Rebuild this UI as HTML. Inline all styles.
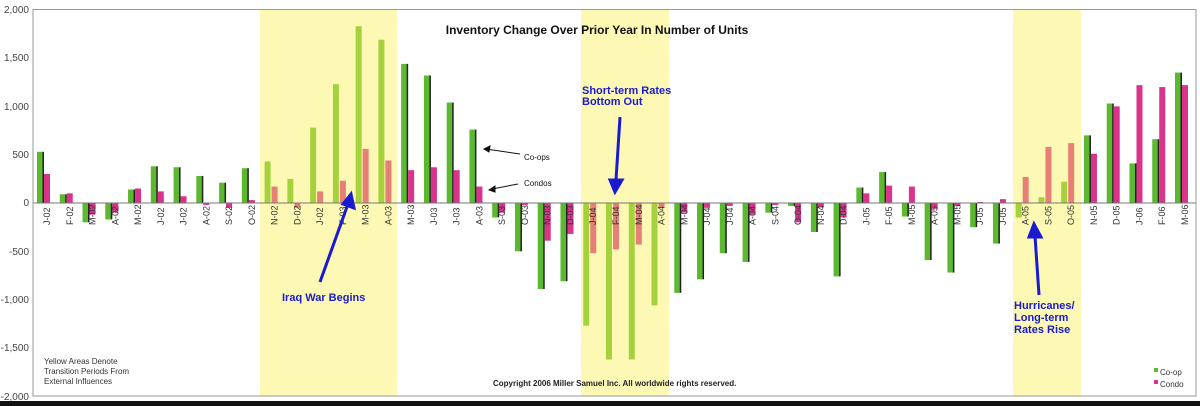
<!DOCTYPE html>
<html><head><meta charset="utf-8"><style>
body{margin:0;background:#fff;width:1200px;height:406px;overflow:hidden}
svg{display:block;font-family:"Liberation Sans",sans-serif}
</style></head><body>
<svg id="s" width="1200" height="406" xmlns="http://www.w3.org/2000/svg">
<rect x="0" y="0" width="1200" height="406" fill="#fff"/>
<rect x="260" y="9" width="137" height="387" fill="#fdf9b4"/>
<rect x="581" y="9" width="88" height="387" fill="#fdf9b4"/>
<rect x="1013" y="9" width="68" height="387" fill="#fdf9b4"/>
<g id="bars"></g>
<line x1="33" y1="203" x2="1196" y2="203" stroke="#777" stroke-width="1"/>
<rect x="33" y="9.5" width="1163" height="386.5" fill="none" stroke="#999" stroke-width="1"/>
<rect x="0" y="401" width="1200" height="5" fill="#111"/>
<g font-size="10" fill="#444" text-anchor="end">
<text x="29" y="13">2,000</text><text x="29" y="61">1,500</text><text x="29" y="110">1,000</text>
<text x="29" y="158">500</text><text x="29" y="206">0</text><text x="29" y="255">-500</text>
<text x="29" y="303">-1,000</text><text x="29" y="351">-1,500</text><text x="29" y="400">-2,000</text>
</g>
<g id="lbl" font-size="9" fill="#333"></g>
<text x="597" y="34" font-size="12" font-weight="bold" text-anchor="middle" fill="#111">Inventory Change Over Prior Year In Number of Units</text>
<g font-size="11" font-weight="bold" fill="#1a1ad0">
<text x="582" y="94">Short-term Rates</text><text x="582" y="105">Bottom Out</text>
<text x="282" y="301">Iraq War Begins</text>
<text x="1014" y="309">Hurricanes/</text><text x="1014" y="321">Long-term</text><text x="1014" y="333">Rates Rise</text>
</g>
<g stroke="#1a1ad0" stroke-width="3" fill="#1a1ad0">
<line x1="620" y1="117" x2="616" y2="180"/><polygon points="610,180 622,180 615,192"/>
<line x1="320" y1="282" x2="348" y2="204"/><polygon points="343,204 354,208 351,194"/>
<line x1="1039" y1="295" x2="1035" y2="236"/><polygon points="1029,237 1041,237 1034,224"/>
</g>
<g font-size="8" fill="#111">
<text x="524" y="160">Co-ops</text><text x="524" y="186">Condos</text>
</g>
<g stroke="#111" stroke-width="1" fill="#111">
<line x1="520" y1="154" x2="486" y2="149"/><polygon points="484,149 490,146 489,152"/>
<line x1="518" y1="184" x2="492" y2="189"/><polygon points="489,190 495,186 495,192"/>
</g>
<g font-size="8" fill="#333">
<text x="44" y="364">Yellow Areas Denote</text><text x="44" y="374">Transition Periods From</text><text x="44" y="384">External Influences</text>
<text x="493" y="386" font-weight="bold" fill="#222">Copyright 2006 Miller Samuel Inc.  All worldwide rights reserved.</text>
<rect x="1154" y="368" width="4" height="4" fill="#5cb82e"/><text x="1160" y="375">Co-op</text>
<rect x="1154" y="380" width="4" height="4" fill="#d9338c"/><text x="1160" y="387">Condo</text>
</g>
</svg>
<script>
var L="J-02 F-02 M-02 A-02 M-02 J-02 J-02 A-02 S-02 O-02 N-02 D-02 J-02 F-03 M-03 A-03 M-03 J-03 J-03 A-03 S-03 O-03 N-03 D-03 J-04 F-04 M-04 A-04 M-04 J-04 J-04 A-04 S-04 O-04 N-04 D-04 J-05 F-05 M-05 A-05 M-05 J-05 J-05 A-05 S-05 O-05 N-05 D-05 J-06 F-06 M-06".split(" ");
var C=[530,90,-200,-170,140,380,370,280,210,360,430,250,780,1230,1830,1690,1440,1320,1040,760,-150,-500,-890,-810,-1270,-1620,-1620,-1060,-930,-790,-520,-610,-100,-30,-300,-760,160,320,-140,-590,-720,-250,-420,-150,60,220,700,1030,410,660,1350];
var D=[300,100,-120,-100,150,120,70,-20,-50,30,170,-50,120,230,560,440,340,370,340,170,-100,-20,-390,-320,-520,-480,-430,-50,-100,-50,-30,-120,-20,-200,-40,-150,100,180,170,-60,-30,10,40,270,580,620,510,1000,1220,1200,1220];
var ns="http://www.w3.org/2000/svg",b=document.getElementById("bars"),lg=document.getElementById("lbl");
function inY(x){return (x>260&&x<397)||(x>581&&x<669)||(x>1013&&x<1081);}
function r(x,v,w,f){var y0=203,h=v*0.0966,y=h>0?y0-h:y0,e=document.createElementNS(ns,"rect");
e.setAttribute("x",x);e.setAttribute("y",y);e.setAttribute("width",w);e.setAttribute("height",Math.abs(h));e.setAttribute("fill",f);b.appendChild(e);}
for(var i=0;i<51;i++){var c=44+22.76*i,y=inY(c);
r(c-7,C[i],6,y?"#a5d13c":"#5cb82e");
if(!y)r(c-1.5,C[i],1.5,"#222");
r(c,D[i],6,y?"#e77f76":"#d9338c");
var t=document.createElementNS(ns,"text");t.setAttribute("transform","translate("+(c+6)+",225) rotate(-90)");t.textContent=L[i];lg.appendChild(t);}
</script>
</body></html>
